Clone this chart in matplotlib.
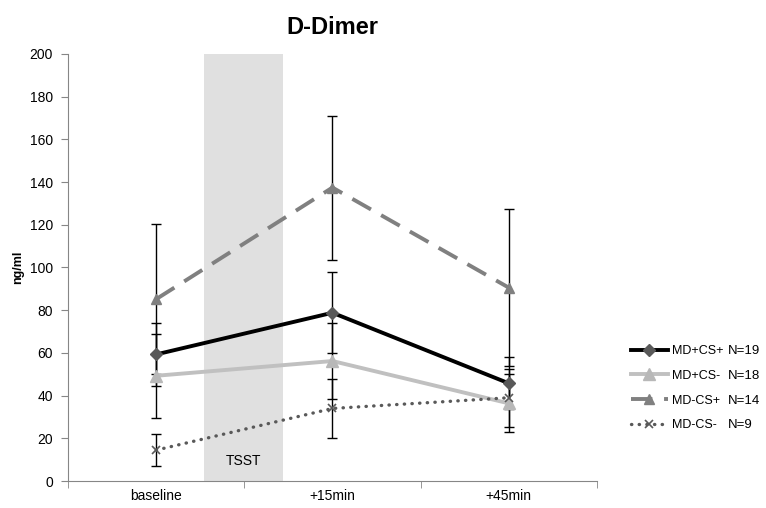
import matplotlib
matplotlib.use("Agg")
import matplotlib.pyplot as plt
import numpy as np

plt.rcParams['font.family'] = ['Liberation Sans', 'DejaVu Sans']

timepoints = ['baseline', '+15min', '+45min']

groups = ['MD+CS+', 'MD+CS-', 'MD-CS+', 'MD-CS-']
group_n = ['N=19', 'N=18', 'N=14', 'N=9']

mean_mdcs_pp = [59.3, 78.8, 45.8]
mean_mdcs_pm = [49.3, 56.2, 36.4]
mean_mdcs_mp = [85.2, 137.4, 90.6]
mean_mdcs_mm = [14.5, 34.0, 39.0]

sem_mdcs_pp = [14.7, 19.0, 12.1]
sem_mdcs_pm = [19.7, 18.0, 13.6]
sem_mdcs_mp = [35.0, 33.7, 36.9]
sem_mdcs_mm = [7.4, 14.0, 13.5]

tsst_span = [0.27, 0.72]

fig = plt.figure(figsize=(7.66, 5.08), dpi=100)
ax = fig.add_axes([0.089, 0.053, 0.69, 0.841])

x = np.arange(len(timepoints))

ax.axvspan(tsst_span[0], tsst_span[1], color='#e0e0e0', zorder=0, lw=0)
ax.text(np.mean(tsst_span), 9.5, 'TSST', ha='center', va='center', fontsize=10)

styles = [
    dict(color='black', lw=2.8, marker='D', ms=6.5, mfc='#595959', mec='#595959', ls='-'),
    dict(color='#c0c0c0', lw=2.8, marker='^', ms=9, mfc='#b8b8b8', mec='#b8b8b8', ls='-'),
    dict(color='#808080', lw=2.8, marker='^', ms=7, mfc='#808080', mec='#808080', ls=(0, (5.5, 3))),
    dict(color='#595959', lw=2.4, marker='x', ms=6, mfc='#595959', mec='#595959', mew=1.2,
         ls=(0, (0.1, 2.2)), dash_capstyle='round'),
]

means = [mean_mdcs_pp, mean_mdcs_pm, mean_mdcs_mp, mean_mdcs_mm]
errs = [sem_mdcs_pp, sem_mdcs_pm, sem_mdcs_mp, sem_mdcs_mm]

handles = []
for m, e, st in zip(means, errs, styles):
    ax.errorbar(x, m, yerr=e, fmt='none', ecolor='black', elinewidth=1, capsize=3.5, capthick=1, zorder=2)
    h, = ax.plot(x, m, zorder=3, **st)
    handles.append(h)

ax.set_xlim(-0.5, 2.5)
ax.set_ylim(0, 200)
ax.set_yticks(np.arange(0, 201, 20))
ax.set_xticks(x)
ax.set_xticklabels(timepoints)
ax.set_xticks(np.arange(-0.5, 2.6, 1), minor=True)
ax.tick_params(axis='x', which='major', length=0, pad=6, labelsize=10)
ax.tick_params(axis='x', which='minor', length=5, color='#868686', direction='out')
ax.tick_params(axis='y', length=5, color='#868686', labelsize=10, pad=6)

for s in ['top', 'right']:
    ax.spines[s].set_visible(False)
for s in ['left', 'bottom']:
    ax.spines[s].set_color('#868686')

ax.set_ylabel('ng/ml', fontsize=9, fontweight='bold', labelpad=4)
ax.set_title('D-Dimer', fontsize=17, fontweight='bold', pad=14)

leg = fig.legend(handles, groups, loc='upper left', bbox_to_anchor=(0.815, 0.333),
                 frameon=False, fontsize=9, handlelength=3.0, handletextpad=0.3,
                 labelspacing=1.02, borderpad=0)

# N column to the right of the legend labels
fig.canvas.draw()
inv = fig.transFigure.inverted()
right = max(t.get_window_extent().x1 for t in leg.get_texts()) + 5
xn, _ = inv.transform((right, 0))
for txt, n in zip(leg.get_texts(), group_n):
    bb = txt.get_window_extent()
    _, yc = inv.transform((0, (bb.y0 + bb.y1) / 2))
    fig.text(xn, yc, n, ha='left', va='center', fontsize=9.5)

fig.savefig('out.png', dpi=100)
